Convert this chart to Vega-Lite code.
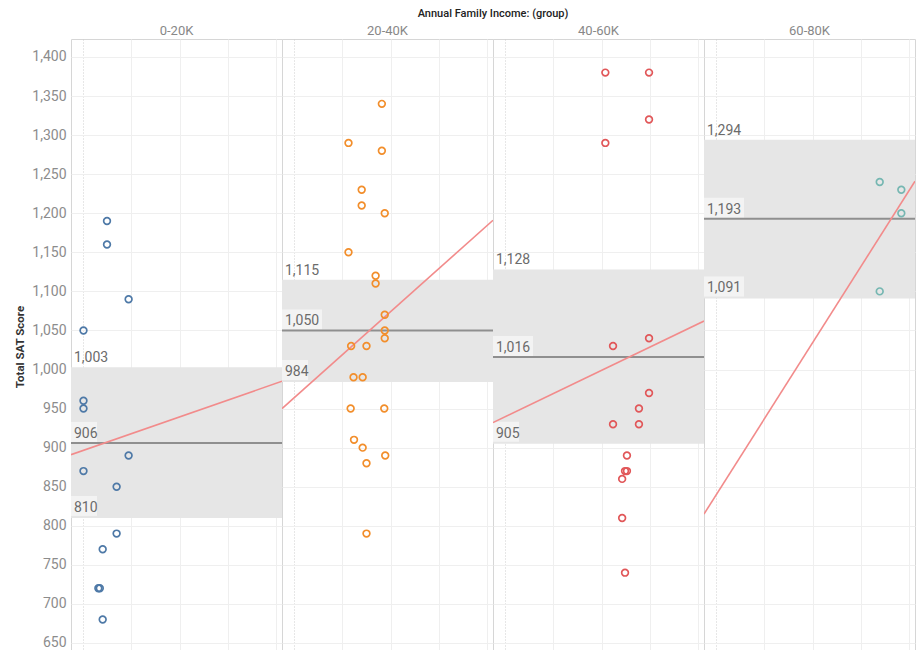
{
  "$schema": "https://vega.github.io/schema/vega-lite/v6.json",
  "padding": {"left": 14, "top": 8, "right": 0, "bottom": 0},
  "background": "white",
  "bounds": "flush",
  "spacing": 0,
  "config": {
    "font": "Roboto",
    "view": {"stroke": "#d6d6d6", "strokeWidth": 1}
  },
  "data": {"values": [
    {"group": "0-20K", "kind": "stat", "lo": 810, "mean": 906, "hi": 1003},
    {"group": "20-40K", "kind": "stat", "lo": 984, "mean": 1050, "hi": 1115},
    {"group": "40-60K", "kind": "stat", "lo": 905, "mean": 1016, "hi": 1128},
    {"group": "60-80K", "kind": "stat", "lo": 1091, "mean": 1193, "hi": 1294},
    {"group": "0-20K", "kind": "trend", "x": -0.26, "y": 891},
    {"group": "0-20K", "kind": "trend", "x": 4.135, "y": 985},
    {"group": "20-40K", "kind": "trend", "x": -0.26, "y": 950},
    {"group": "20-40K", "kind": "trend", "x": 4.135, "y": 1191},
    {"group": "40-60K", "kind": "trend", "x": -0.26, "y": 932},
    {"group": "40-60K", "kind": "trend", "x": 4.135, "y": 1062},
    {"group": "60-80K", "kind": "trend", "x": -0.26, "y": 815},
    {"group": "60-80K", "kind": "trend", "x": 4.135, "y": 1241},
    {"group": "0-20K", "kind": "point", "x": 0.49, "y": 1190},
    {"group": "0-20K", "kind": "point", "x": 0.49, "y": 1160},
    {"group": "0-20K", "kind": "point", "x": 0.94, "y": 1090},
    {"group": "0-20K", "kind": "point", "x": 0.0, "y": 1050},
    {"group": "0-20K", "kind": "point", "x": 0.0, "y": 960},
    {"group": "0-20K", "kind": "point", "x": 0.0, "y": 950},
    {"group": "0-20K", "kind": "point", "x": 0.94, "y": 890},
    {"group": "0-20K", "kind": "point", "x": 0.0, "y": 870},
    {"group": "0-20K", "kind": "point", "x": 0.69, "y": 850},
    {"group": "0-20K", "kind": "point", "x": 0.69, "y": 790},
    {"group": "0-20K", "kind": "point", "x": 0.4, "y": 770},
    {"group": "0-20K", "kind": "point", "x": 0.31, "y": 720},
    {"group": "0-20K", "kind": "point", "x": 0.34, "y": 720},
    {"group": "0-20K", "kind": "point", "x": 0.4, "y": 680},
    {"group": "20-40K", "kind": "point", "x": 1.82, "y": 1340},
    {"group": "20-40K", "kind": "point", "x": 1.125, "y": 1290},
    {"group": "20-40K", "kind": "point", "x": 1.82, "y": 1280},
    {"group": "20-40K", "kind": "point", "x": 1.4, "y": 1230},
    {"group": "20-40K", "kind": "point", "x": 1.4, "y": 1210},
    {"group": "20-40K", "kind": "point", "x": 1.88, "y": 1200},
    {"group": "20-40K", "kind": "point", "x": 1.125, "y": 1150},
    {"group": "20-40K", "kind": "point", "x": 1.69, "y": 1120},
    {"group": "20-40K", "kind": "point", "x": 1.69, "y": 1110},
    {"group": "20-40K", "kind": "point", "x": 1.88, "y": 1070},
    {"group": "20-40K", "kind": "point", "x": 1.88, "y": 1050},
    {"group": "20-40K", "kind": "point", "x": 1.88, "y": 1040},
    {"group": "20-40K", "kind": "point", "x": 1.18, "y": 1030},
    {"group": "20-40K", "kind": "point", "x": 1.5, "y": 1030},
    {"group": "20-40K", "kind": "point", "x": 1.23, "y": 990},
    {"group": "20-40K", "kind": "point", "x": 1.42, "y": 990},
    {"group": "20-40K", "kind": "point", "x": 1.17, "y": 950},
    {"group": "20-40K", "kind": "point", "x": 1.87, "y": 950},
    {"group": "20-40K", "kind": "point", "x": 1.24, "y": 910},
    {"group": "20-40K", "kind": "point", "x": 1.42, "y": 900},
    {"group": "20-40K", "kind": "point", "x": 1.89, "y": 890},
    {"group": "20-40K", "kind": "point", "x": 1.5, "y": 880},
    {"group": "20-40K", "kind": "point", "x": 1.5, "y": 790},
    {"group": "40-60K", "kind": "point", "x": 2.08, "y": 1380},
    {"group": "40-60K", "kind": "point", "x": 2.99, "y": 1380},
    {"group": "40-60K", "kind": "point", "x": 2.99, "y": 1320},
    {"group": "40-60K", "kind": "point", "x": 2.08, "y": 1290},
    {"group": "40-60K", "kind": "point", "x": 2.99, "y": 1040},
    {"group": "40-60K", "kind": "point", "x": 2.24, "y": 1030},
    {"group": "40-60K", "kind": "point", "x": 2.99, "y": 970},
    {"group": "40-60K", "kind": "point", "x": 2.78, "y": 950},
    {"group": "40-60K", "kind": "point", "x": 2.24, "y": 930},
    {"group": "40-60K", "kind": "point", "x": 2.78, "y": 930},
    {"group": "40-60K", "kind": "point", "x": 2.53, "y": 890},
    {"group": "40-60K", "kind": "point", "x": 2.49, "y": 870},
    {"group": "40-60K", "kind": "point", "x": 2.53, "y": 870},
    {"group": "40-60K", "kind": "point", "x": 2.43, "y": 860},
    {"group": "40-60K", "kind": "point", "x": 2.43, "y": 810},
    {"group": "40-60K", "kind": "point", "x": 2.49, "y": 740},
    {"group": "60-80K", "kind": "point", "x": 3.4, "y": 1240},
    {"group": "60-80K", "kind": "point", "x": 3.85, "y": 1230},
    {"group": "60-80K", "kind": "point", "x": 3.85, "y": 1200},
    {"group": "60-80K", "kind": "point", "x": 3.4, "y": 1100}
  ]},
  "facet": {
    "column": {
      "field": "group",
      "type": "nominal",
      "sort": ["0-20K", "20-40K", "40-60K", "60-80K"],
      "header": {
        "title": "Annual Family Income: (group)",
        "titleFontSize": 11,
        "titleColor": "#222222",
        "titleFontWeight": 500,
        "titlePadding": -4,
        "labelFontSize": 13,
        "labelColor": "#888888",
        "labelPadding": 1
      }
    }
  },
  "spec": {
    "width": 211,
    "height": 615,
    "encoding": {
      "x": {
        "type": "quantitative",
        "scale": {"domain": [-0.26, 4.135], "nice": false, "zero": false},
        "axis": {
          "title": null, "labels": false, "ticks": false, "domain": false,
          "values": [0, 1, 2, 3, 4], "grid": true,
          "gridColor": {"condition": {"test": "datum.value === 0", "value": "#cfcfcf"}, "value": "#efefef"},
          "gridDash": {"condition": {"test": "datum.value === 0", "value": [1, 2]}, "value": []}
        }
      },
      "y": {
        "type": "quantitative",
        "scale": {"domain": [635.9, 1423], "nice": false, "zero": false},
        "axis": {
          "title": "Total SAT Score",
          "titleFontSize": 11.5,
          "titleFontWeight": "bold",
          "titleColor": "#333333",
          "titlePadding": 6,
          "values": [650, 700, 750, 800, 850, 900, 950, 1000, 1050, 1100, 1150, 1200, 1250, 1300, 1350, 1400],
          "format": ",.0f",
          "labelFontSize": 14,
          "labelColor": "#8c8c8c",
          "labelPadding": 5,
          "ticks": false,
          "domain": false,
          "grid": true,
          "gridColor": "#efefef"
        }
      }
    },
    "layer": [
      {
        "transform": [{"filter": "datum.kind === 'stat'"}],
        "mark": {"type": "rect", "color": "#e6e6e6"},
        "encoding": {"y": {"field": "lo"}, "y2": {"field": "hi"}}
      },
      {
        "transform": [{"filter": "datum.kind === 'stat'"}],
        "mark": {"type": "point", "filled": true, "size": 1600, "opacity": 1, "strokeWidth": 0, "color": "#f3f3f3"},
        "encoding": {
          "x": {"datum": -0.26},
          "y": {"field": "lo"},
          "shape": {"condition": {"test": "datum.lo < 1000", "value": "M0,-0.1H1.3V-1.1H0Z"}, "value": "M0,-0.1H2V-1.1H0Z"}
        }
      },
      {
        "transform": [{"filter": "datum.kind === 'stat'"}],
        "mark": {"type": "point", "filled": true, "size": 1600, "opacity": 1, "strokeWidth": 0, "color": "#f3f3f3"},
        "encoding": {
          "x": {"datum": -0.26},
          "y": {"field": "mean"},
          "shape": {"condition": {"test": "datum.mean < 1000", "value": "M0,-0.05H1.3V-1.05H0Z"}, "value": "M0,-0.05H2V-1.05H0Z"}
        }
      },
      {
        "transform": [{"filter": "datum.kind === 'stat'"}],
        "mark": {"type": "rule", "color": "#8f8f8f", "strokeWidth": 2},
        "encoding": {"y": {"field": "mean"}}
      },
      {
        "transform": [{"filter": "datum.kind === 'stat'"}],
        "mark": {"type": "text", "align": "left", "baseline": "alphabetic", "dx": 3, "dy": -5, "fontSize": 14, "color": "#6b6b6b"},
        "encoding": {"x": {"datum": -0.26}, "y": {"field": "hi"}, "text": {"field": "hi", "format": ","}}
      },
      {
        "transform": [{"filter": "datum.kind === 'stat'"}],
        "mark": {"type": "text", "align": "left", "baseline": "alphabetic", "dx": 3, "dy": -5, "fontSize": 14, "color": "#6b6b6b"},
        "encoding": {"x": {"datum": -0.26}, "y": {"field": "mean"}, "text": {"field": "mean", "format": ","}}
      },
      {
        "transform": [{"filter": "datum.kind === 'stat'"}],
        "mark": {"type": "text", "align": "left", "baseline": "alphabetic", "dx": 3, "dy": -6, "fontSize": 14, "color": "#6b6b6b"},
        "encoding": {"x": {"datum": -0.26}, "y": {"field": "lo"}, "text": {"field": "lo", "format": ","}}
      },
      {
        "transform": [{"filter": "datum.kind === 'trend'"}],
        "mark": {"type": "line", "color": "#f28b8b", "strokeWidth": 1.6, "clip": true},
        "encoding": {"x": {"field": "x"}, "y": {"field": "y"}}
      },
      {
        "transform": [{"filter": "datum.kind === 'point'"}],
        "mark": {"type": "point", "filled": false, "size": 45, "strokeWidth": 1.7, "opacity": 1},
        "encoding": {
          "x": {"field": "x"},
          "y": {"field": "y"},
          "color": {
            "field": "group", "type": "nominal", "legend": null,
            "scale": {"domain": ["0-20K", "20-40K", "40-60K", "60-80K"], "range": ["#4e79a7", "#f28e2b", "#e15759", "#76b7b2"]}
          }
        }
      }
    ]
  }
}
